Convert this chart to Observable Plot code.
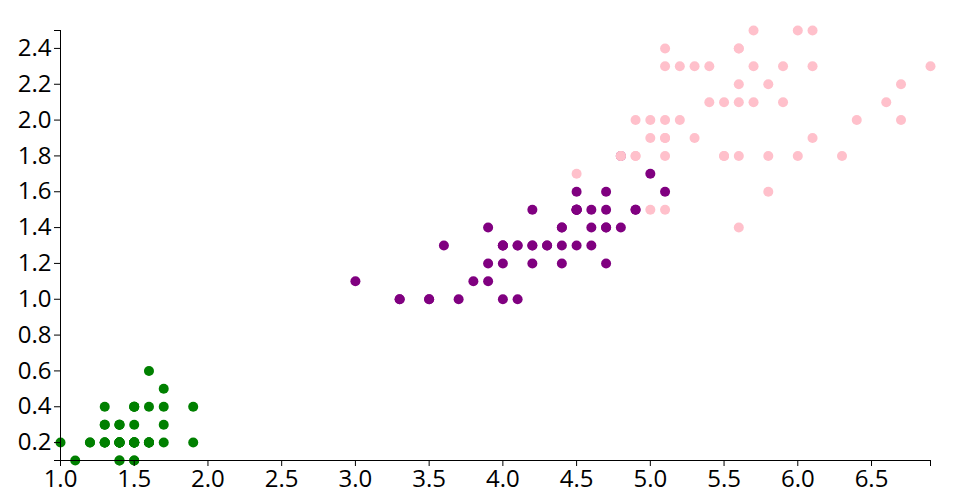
<!DOCTYPE html>
<html>
<head>
<meta charset="utf-8">
<script src="https://cdn.jsdelivr.net/npm/d3@7"></script>
<script src="https://cdn.jsdelivr.net/npm/@observablehq/plot@0.6"></script>
<style>
  html, body { margin: 0; padding: 0; background: #fff; }
  #chart svg { display: block; }
  #chart svg text { font-size: 24px !important; font-family: 'Open Sans', 'Noto Sans', sans-serif !important; fill: black; }
</style>
</head>
<body>
<div id="chart"></div>
<script>
// Iris petal measurements
const setosaLength = [1.4,1.4,1.3,1.5,1.4,1.7,1.4,1.5,1.4,1.5,1.5,1.6,1.4,1.1,1.2,1.5,1.3,1.4,1.7,1.5,1.7,1.5,1.0,1.7,1.9,1.6,1.6,1.5,1.4,1.6,1.6,1.5,1.5,1.4,1.5,1.2,1.3,1.4,1.3,1.5,1.3,1.3,1.3,1.6,1.9,1.4,1.6,1.4,1.5,1.4];
const setosaWidth  = [0.2,0.2,0.2,0.2,0.2,0.4,0.3,0.2,0.2,0.1,0.2,0.2,0.1,0.1,0.2,0.4,0.4,0.3,0.3,0.3,0.2,0.4,0.2,0.5,0.2,0.2,0.4,0.2,0.2,0.2,0.2,0.4,0.1,0.2,0.2,0.2,0.2,0.1,0.2,0.2,0.3,0.3,0.2,0.6,0.4,0.3,0.2,0.2,0.2,0.2];
const versicolorLength = [4.7,4.5,4.9,4.0,4.6,4.5,4.7,3.3,4.6,3.9,3.5,4.2,4.0,4.7,3.6,4.4,4.5,4.1,4.5,3.9,4.8,4.0,4.9,4.7,4.3,4.4,4.8,5.0,4.5,3.5,3.8,3.7,3.9,5.1,4.5,4.5,4.7,4.4,4.1,4.0,4.4,4.6,4.0,3.3,4.2,4.2,4.2,4.3,3.0,4.1];
const versicolorWidth  = [1.4,1.5,1.5,1.3,1.5,1.3,1.6,1.0,1.3,1.4,1.0,1.5,1.0,1.4,1.3,1.4,1.5,1.0,1.5,1.1,1.8,1.3,1.5,1.2,1.3,1.4,1.4,1.7,1.5,1.0,1.1,1.0,1.2,1.6,1.5,1.6,1.5,1.3,1.3,1.3,1.2,1.4,1.2,1.0,1.3,1.2,1.3,1.3,1.1,1.3];
const virginicaLength = [6.0,5.1,5.9,5.6,5.8,6.6,4.5,6.3,5.8,6.1,5.1,5.3,5.5,5.0,5.1,5.3,5.5,6.7,6.9,5.0,5.7,4.9,6.7,4.9,5.7,6.0,4.8,4.9,5.6,5.8,6.1,6.4,5.6,5.1,5.6,6.1,5.6,5.5,4.8,5.4,5.6,5.1,5.1,5.9,5.7,5.2,5.0,5.2,5.4,5.1];
const virginicaWidth  = [2.5,1.9,2.1,1.8,2.2,2.1,1.7,1.8,1.8,2.5,2.0,1.9,2.1,2.0,2.4,2.3,1.8,2.2,2.3,1.5,2.3,2.0,2.0,1.8,2.1,1.8,1.8,1.8,2.1,1.6,1.9,2.0,2.2,1.5,1.4,2.3,2.4,1.8,1.8,2.1,2.4,2.3,1.9,2.3,2.5,2.3,1.9,2.0,2.3,1.8];

const speciesNames  = ["setosa", "versicolor", "virginica"];
const speciesColors = ["green", "purple", "pink"];
const xDomain = [1.0, 6.9];
const yDomain = [0.1, 2.5];
const xTicks = [1.0,1.5,2.0,2.5,3.0,3.5,4.0,4.5,5.0,5.5,6.0,6.5];
const yTicks = [0.2,0.4,0.6,0.8,1.0,1.2,1.4,1.6,1.8,2.0,2.2,2.4];

const lengths = [setosaLength, versicolorLength, virginicaLength];
const widths  = [setosaWidth, versicolorWidth, virginicaWidth];
const data = [];
speciesNames.forEach((s, i) => {
  lengths[i].forEach((len, j) => data.push({species: s, length: len, width: widths[i][j]}));
});

const font = "'Open Sans', 'Noto Sans', sans-serif";

const chart = Plot.plot({
  width: 960,
  height: 500,
  marginLeft: 60,
  marginRight: 30,
  marginTop: 30,
  marginBottom: 40,
  style: {fontFamily: font, color: "black", background: "white"},
  x: {domain: xDomain},
  y: {domain: yDomain},
  color: {domain: speciesNames, range: speciesColors},
  marks: [
    Plot.dot(data, {x: "length", y: "width", fill: "species", r: 5}),
    Plot.ruleX([xDomain[0]]),
    Plot.ruleY([yDomain[0]]),
    Plot.axisX({ticks: xTicks, tickFormat: d3.format(".1f"), tickSize: 6, tickPadding: 3, label: null}),
    Plot.axisX({ticks: xDomain, tickFormat: () => "", tickSize: 6, label: null}),
    Plot.axisY({ticks: yTicks, tickFormat: d3.format(".1f"), tickSize: 6, tickPadding: 3, label: null}),
    Plot.axisY({ticks: yDomain, tickFormat: () => "", tickSize: 6, label: null})
  ]
});
document.getElementById("chart").appendChild(chart);
</script>
</body>
</html>
